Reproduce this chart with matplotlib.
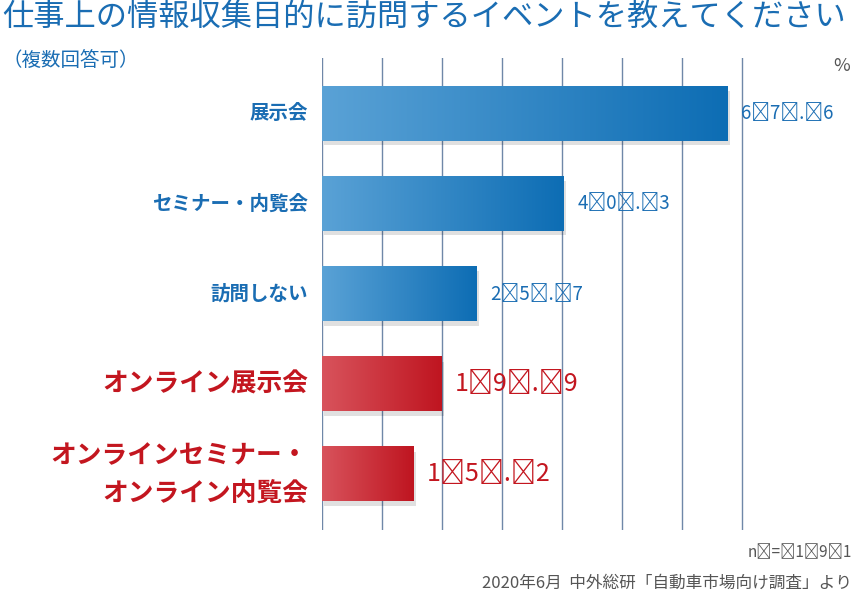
import numpy as np
import matplotlib.pyplot as plt
from matplotlib.colors import LinearSegmentedColormap
from matplotlib.patches import Rectangle

plt.rcParams["font.family"] = "Noto Sans CJK JP"

categories = ["展示会", "セミナー・内覧会", "訪問しない", "オンライン展示会", "オンラインセミナー・\nオンライン内覧会"]
values = [67.6, 40.3, 25.7, 19.9, 15.2]
is_online = [False, False, False, True, True]

BLUE_TXT = "#1a6db3"
RED_TXT = "#c3161f"
blue_cmap = LinearSegmentedColormap.from_list("b", ["#5aa2d6", "#0d6db4"])
red_cmap = LinearSegmentedColormap.from_list("r", ["#d8535c", "#bf1520"])


def spaced(s):
    # the original sets numbers with wide letter spacing
    return "\u2009".join(s)


fig = plt.figure(figsize=(8.58, 5.94), dpi=100)
ax = fig.add_axes([322 / 858, 64 / 594, 480 / 858, 472 / 594])
ax.axis("off")

for g in range(0, 80, 10):
    ax.axvline(g, color="#6f87a8", lw=1.0, zorder=0)

grad = np.linspace(0, 1, 256).reshape(1, -1)
h = 0.6
for i, (v, online) in enumerate(zip(values, is_online)):
    cmap = red_cmap if online else blue_cmap
    ax.add_patch(Rectangle((0.4, i - h / 2 + 0.05), v, h, color="#000000", alpha=0.12, lw=0, zorder=1))
    ax.imshow(grad, cmap=cmap, aspect="auto", extent=(0, v, i + h / 2, i - h / 2), zorder=2)
    color = RED_TXT if online else BLUE_TXT
    ax.text(v + 2.3, i, spaced(f"{v:.1f}"), color=color, fontsize=18 if online else 13.5,
            va="center", ha="left", zorder=3)
    ax.text(-2.3, i, categories[i], color=color, fontsize=18.5 if online else 14,
            fontweight="bold", va="center", ha="right", linespacing=1.5, zorder=3)
ax.set_ylim(4.62, -0.62)
ax.set_xlim(0, 80)

fig.text(2 / 858, 1 - 17 / 594, "仕事上の情報収集目的に訪問するイベントを教えてください",
         color=BLUE_TXT, fontsize=22.5, va="center", ha="left")
fig.text(2 / 858, 1 - 60 / 594, "（複数回答可）", color=BLUE_TXT, fontsize=14, va="center", ha="left")
fig.text(850 / 858, 1 - 66 / 594, "%", color="#555555", fontsize=13, va="center", ha="right")
fig.text(852 / 858, 1 - 553 / 594, spaced("n=191"), color="#555555", fontsize=11, va="center", ha="right")
fig.text(852 / 858, 1 - 583 / 594, "2020年6月  中外総研「自動車市場向け調査」より",
         color="#555555", fontsize=12, va="center", ha="right")

fig.savefig("out.png", dpi=100)
